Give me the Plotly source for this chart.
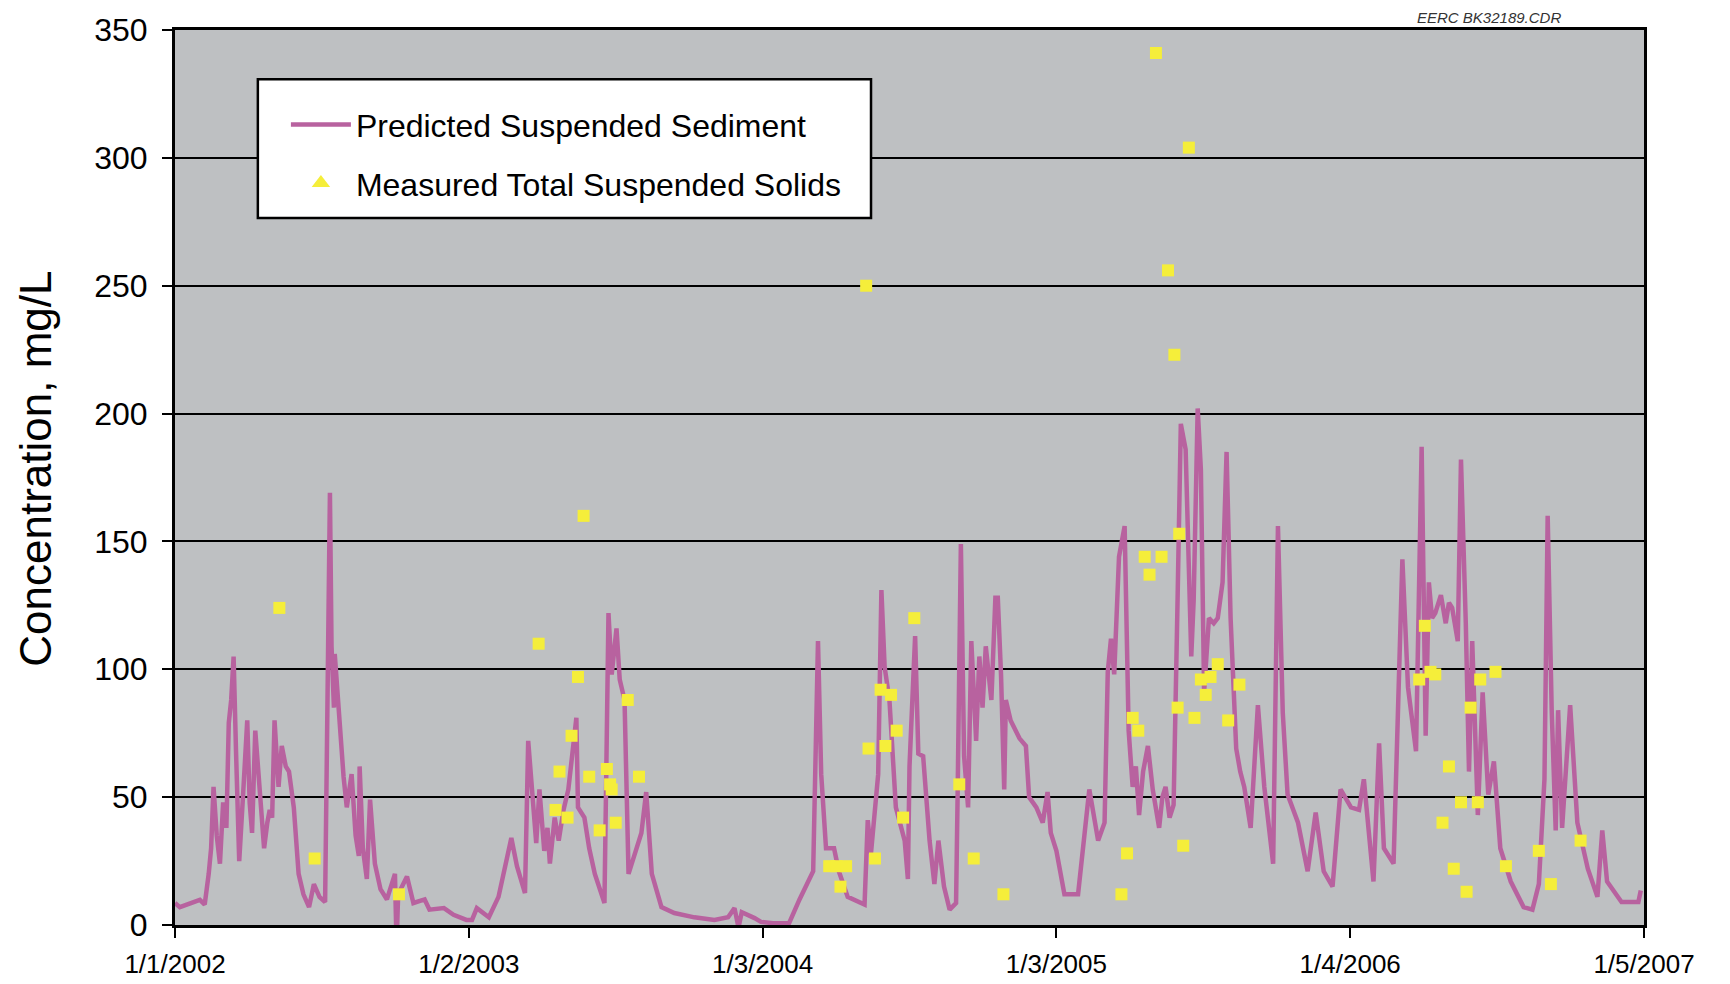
import pandas as pd
import plotly.graph_objects as go

# Predicted suspended sediment (days since 1/1/2002, mg/L)
PRED_DAY = [
    0, 6, 31, 37, 42, 45, 48, 52, 56, 60, 64, 67, 70, 73, 76, 80, 85, 90, 93, 96, 100, 106,
    111, 115, 118, 121, 124, 129, 133, 138, 142, 148, 154, 160, 167, 173, 180, 187, 193, 195,
    198, 199, 205, 210, 214, 220, 225, 229, 230, 234, 239, 243, 249, 256, 264, 274, 276, 278,
    289, 297, 311, 317, 335, 347, 363,
    370, 376, 391, 403, 419, 426, 436, 440, 446, 450, 454, 460, 464, 467, 473, 478, 484, 490,
    500, 502, 510, 516, 523, 535, 540, 544, 550, 554, 560, 565, 573, 581, 587, 594, 606, 622,
    647, 672, 689, 697, 702, 706, 722, 730,
    745, 765, 778, 795, 801, 805, 811, 821, 827, 838, 859, 863, 867, 876, 880, 884, 890, 898,
    909, 913, 915, 922, 926, 932, 940, 946, 951, 958, 965, 973, 975, 979, 983, 988, 992, 998,
    1002, 1006, 1010, 1017, 1022, 1025, 1029, 1033, 1035, 1041, 1052, 1060, 1064, 1073, 1081,
    1087, 1091, 1098,
    1108, 1125, 1139, 1150, 1158, 1162, 1166, 1170, 1176, 1183, 1188, 1193, 1197, 1201, 1206,
    1212, 1218, 1222, 1226, 1230, 1234, 1239, 1244, 1249, 1253, 1259, 1266, 1269, 1274, 1278,
    1282, 1288, 1294, 1299, 1305, 1310, 1315, 1322, 1327, 1332, 1336, 1340, 1349, 1357, 1368,
    1374, 1380, 1386, 1399, 1411, 1421, 1431, 1442, 1452, 1465,
    1475, 1481, 1493, 1500, 1506, 1518, 1529, 1536, 1541, 1546, 1553, 1558, 1562, 1566, 1570,
    1577, 1583, 1587, 1591, 1598, 1602, 1608, 1612, 1616, 1623, 1629, 1636, 1643, 1651, 1664,
    1680, 1691, 1699, 1706, 1710, 1715, 1720, 1723, 1728, 1738, 1747, 1760, 1772, 1778, 1784,
    1802, 1823, 1826,
]
PRED_VAL = [
    8.6, 7, 9.8, 8, 20, 30, 54, 35, 24, 48, 38, 79, 88, 105, 68, 25, 52, 80, 48, 36, 76, 49,
    30, 40, 45, 42, 80, 54, 70, 62, 60, 46, 20, 12, 7, 16, 11, 9, 169, 109,
    85, 106, 79, 58, 46, 59, 35, 27, 62, 30, 18, 49, 24, 14, 10, 20, -8, 12,
    19, 8.6, 10, 6, 6.6, 4, 2,
    2, 6.6, 3, 11, 34, 23, 12.5, 72, 46, 32, 53, 29, 38, 24, 42, 33, 45, 53,
    81, 46, 42, 30, 20, 8.6, 122, 98, 116, 96, 88, 20, 28, 36, 52, 20, 7, 4.7,
    3, 2, 3, 6.6, -1, 5, 2.7, 1.2,
    0.7, 0.7, 10, 21, 111, 59, 30, 30, 21, 11, 8, 41, 28, 59, 131, 101, 88, 46,
    33, 18, 62, 113, 67, 66, 33, 16, 33, 15, 6, 8.6, 52, 149, 66, 46, 111, 72,
    105, 85, 109, 88, 128, 128, 98, 53, 88, 80, 73, 70, 50, 46, 40,
    52, 36, 29,
    12, 12, 53, 33, 40, 99, 112, 98, 144, 156, 76, 54, 62, 43, 60,
    70, 53, 44, 38, 50, 54, 42, 47, 128, 196, 186, 105, 127, 202, 178,
    91, 120, 118, 120, 134, 185, 120, 69, 60, 54, 45, 38, 86, 54, 24,
    156, 83, 51, 40, 21, 44, 21, 15, 53, 46,
    45, 57, 17, 71, 30, 24, 143, 93, 80, 68, 187, 74, 134, 120, 122,
    129, 118, 126, 124, 111, 182, 118, 60, 111, 43, 91, 51, 64, 30, 17,
    7, 6, 16, 57, 160, 84, 37, 84, 38, 86, 40, 22, 11, 37, 17,
    9, 9, 13.5,
]

# Measured total suspended solids
MEAS_DAY = [
    130, 174, 279, 453, 474, 479, 489, 494, 502, 509, 516, 529, 538, 542, 544, 549, 564, 578,
    815, 824, 829, 836, 861, 864, 872, 879, 885, 892, 899, 907, 921, 977, 995, 1032,
    1179, 1186, 1193, 1200, 1208, 1214, 1222, 1229, 1237, 1245, 1249, 1251, 1256, 1263, 1270,
    1278, 1284, 1290, 1299, 1312, 1326,
    1550, 1557, 1564, 1570, 1579, 1587, 1593, 1602, 1609, 1614, 1623, 1626, 1645, 1658, 1699,
    1714, 1751,
]
MEAS_VAL = [
    124, 26, 12, 110, 45, 60, 42, 74, 97, 160, 58, 37, 61, 55, 53, 40, 88, 58,
    23, 23, 15, 23, 250, 69, 26, 92, 70, 90, 76, 42, 120, 55, 26, 12,
    12, 28, 81, 76, 144, 137, 341, 144, 256, 223, 85, 153, 31, 304, 81,
    96, 90, 97, 102, 80, 94,
    96, 117, 99, 98, 40, 62, 22, 48, 13, 85, 48, 96, 99, 23, 29,
    16, 33,
]

TICK_DATES = ["2002-01-01", "2003-01-02", "2004-01-03", "2005-01-03", "2006-01-04", "2007-01-05"]
TICK_TEXT = ["1/1/2002", "1/2/2003", "1/3/2004", "1/3/2005", "1/4/2006", "1/5/2007"]

START = pd.Timestamp("2002-01-01")
pred_x = START + pd.to_timedelta(PRED_DAY, unit="D")
meas_x = START + pd.to_timedelta(MEAS_DAY, unit="D")

LINE_COLOR = "#b8629f"
MARK_COLOR = "#f5ee3a"
FONT = "Liberation Sans, Arial, sans-serif"

fig = go.Figure()

fig.add_trace(go.Scatter(
    x=pred_x, y=PRED_VAL,
    mode="lines",
    name="Predicted Suspended Sediment",
    line=dict(color=LINE_COLOR, width=4.5),
    legendgroup="a",
))
fig.add_trace(go.Scatter(
    x=meas_x, y=MEAS_VAL,
    mode="markers",
    marker=dict(symbol="square", size=12, color=MARK_COLOR),
    showlegend=False,
    cliponaxis=False,
))
# legend-only entry: the legend shows a triangle
fig.add_trace(go.Scatter(
    x=[None], y=[None],
    mode="markers",
    name="Measured Total Suspended Solids",
    marker=dict(symbol="triangle-up", size=22, color=MARK_COLOR),
    legendgroup="b",
))

fig.update_xaxes(
    type="date",
    range=[TICK_DATES[0], TICK_DATES[-1]],
    tickmode="array",
    tickvals=TICK_DATES,
    ticktext=TICK_TEXT,
    ticks="outside", ticklen=10, tickwidth=2, tickcolor="black",
    tickfont=dict(family="Liberation Sans Narrow, " + FONT, size=26, color="black"),
    ticklabelstandoff=4,
    showline=True, linecolor="black", linewidth=3, mirror=True,
    showgrid=False, zeroline=False,
    automargin=False,
)
fig.update_yaxes(
    range=[0, 350],
    dtick=50,
    ticks="outside", ticklen=10, tickwidth=2, tickcolor="black",
    tickfont=dict(family=FONT, size=32, color="black"),
    ticklabelstandoff=8,
    showline=True, linecolor="black", linewidth=3, mirror=True,
    showgrid=True, gridcolor="black", gridwidth=1.5,
    zeroline=False,
    automargin=False,
)

# legend frame
fig.add_shape(
    type="rect", xref="paper", yref="paper",
    x0=0.0564, x1=0.4738, y0=0.790, y1=0.945,
    line=dict(color="black", width=2.5),
    fillcolor="white",
    layer="above",
)

fig.add_annotation(
    text="Concentration, mg/L",
    xref="paper", yref="paper", x=-0.0952, y=0.51,
    xanchor="center", yanchor="middle",
    textangle=-90, showarrow=False,
    font=dict(family=FONT, size=44, color="black"),
)
fig.add_annotation(
    text="EERC BK32189.CDR",
    xref="paper", yref="paper", x=0.8946, y=1.014,
    xanchor="center", yanchor="middle",
    showarrow=False,
    font=dict(family=FONT, size=15, color="#333333", style="italic"),
)

# page body adds an 8px offset, so margins are shifted to keep the plot area in place
fig.update_layout(
    width=1730, height=984,
    margin=dict(l=167, r=94, t=22, b=67, autoexpand=False),
    plot_bgcolor="#bec0c2",
    paper_bgcolor="white",
    font=dict(family=FONT, color="black"),
    showlegend=True,
    legend=dict(
        x=0.0755, y=0.925, xanchor="left", yanchor="top",
        bgcolor="rgba(0,0,0,0)",
        borderwidth=0,
        font=dict(family=FONT, size=32, color="black"),
        traceorder="grouped",
        tracegroupgap=14,
        itemwidth=60,
    ),
)

fig.write_html("out.html")
